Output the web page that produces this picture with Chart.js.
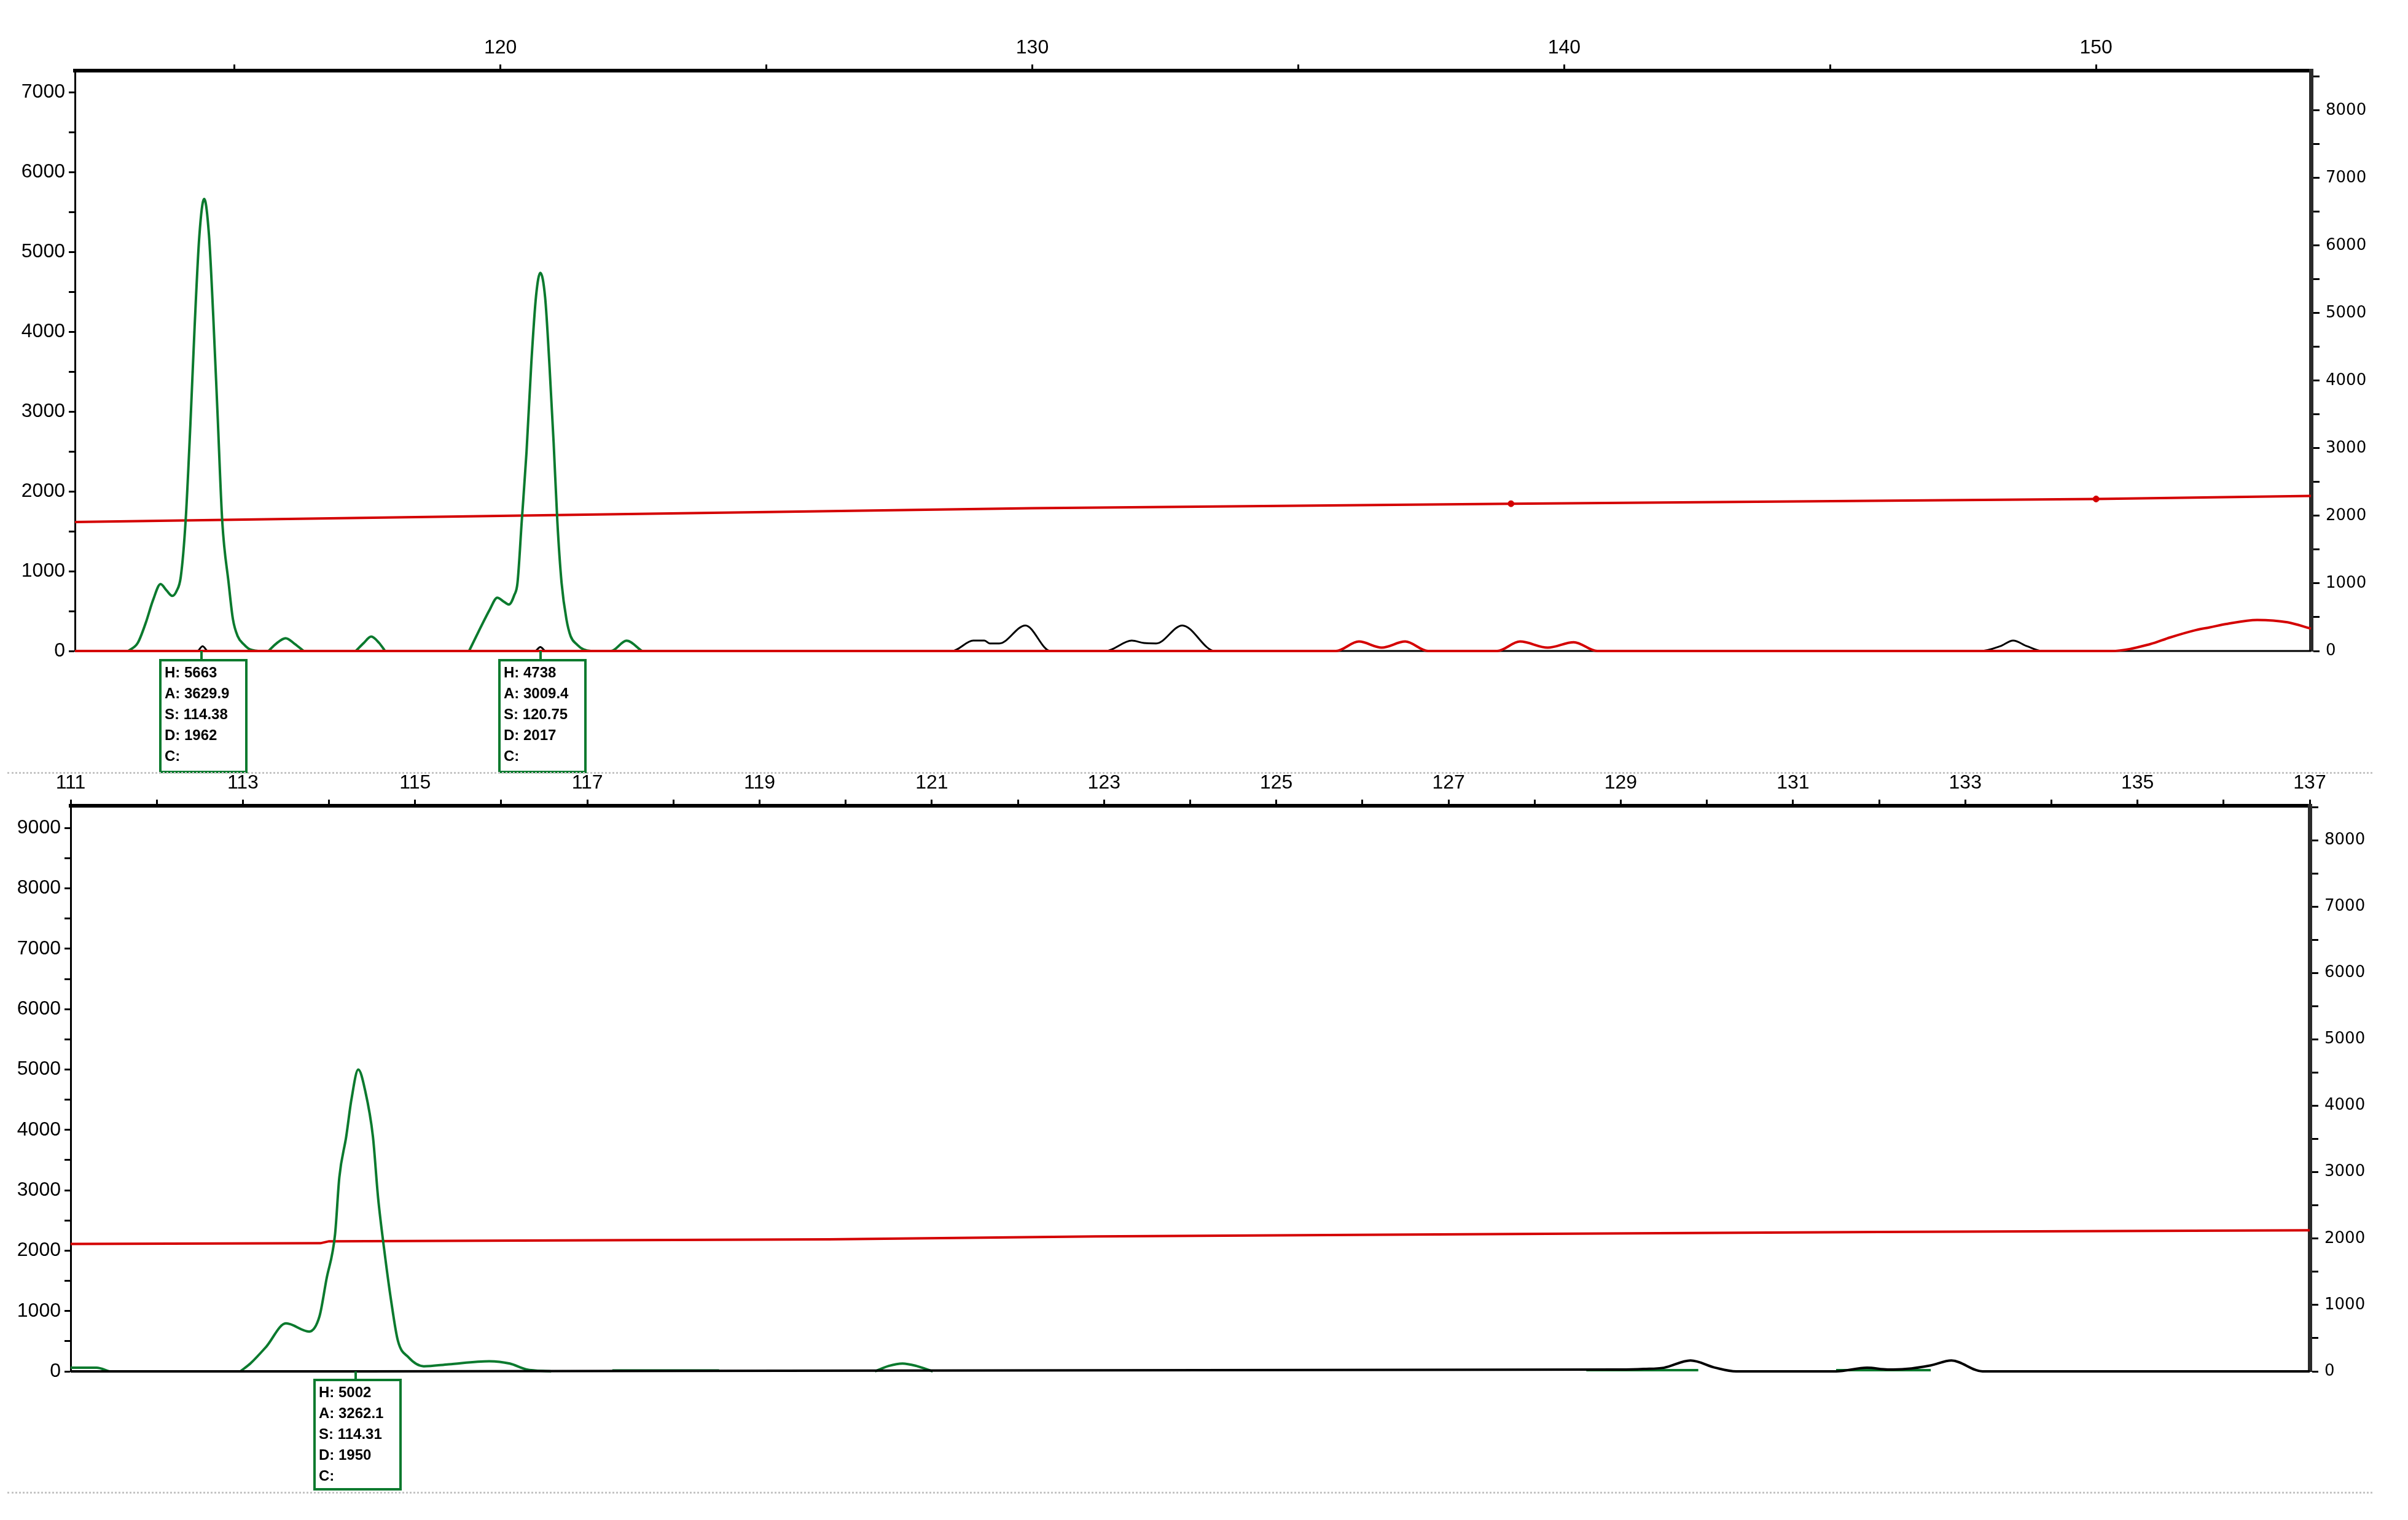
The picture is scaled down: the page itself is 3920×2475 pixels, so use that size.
<!DOCTYPE html>
<html>
<head>
<meta charset="utf-8">
<script src="https://cdn.jsdelivr.net/npm/chart.js@4.4.1/dist/chart.umd.min.js"></script>
<style>
body { margin:0; background:#fff; }
#wrap { position:relative; width:3920px; height:2475px; background:#fff; }
canvas { position:absolute; left:0; }
.sep { position:absolute; left:12px; width:3850px; border-top:3px dotted #c4c4c4; }
</style>
</head>
<body>
<div id="wrap">
	<canvas id="topChart" width="3920" height="1262" style="top:0px"></canvas>
	<div class="sep" style="top:1257px"></div>
	<canvas id="bottomChart" width="3920" height="1213" style="top:1262px"></canvas>
	<div class="sep" style="top:2429px"></div>
</div>
<script>
// ---- top panel data (size in bp, height in RFU) ----
var topGreenX = [113.0, 113.18, 113.33, 113.47, 113.61, 113.72, 113.83, 113.91, 113.99, 114.08, 114.17, 114.25, 114.34, 114.43, 114.52, 114.6, 114.68, 114.77, 114.89, 114.97, 115.06, 115.18, 115.29, 115.44,
	115.5, 115.64, 115.78, 115.96, 116.13, 116.3,
	116.4, 117.28, 117.43, 117.57, 117.72, 117.83,
	117.9, 119.41, 119.62, 119.8, 119.94, 120.06, 120.16, 120.26, 120.32, 120.4, 120.49, 120.58, 120.67, 120.75, 120.84, 120.92, 121.0, 121.07, 121.15, 121.24, 121.32, 121.44, 121.56, 121.7, 122.08, 122.37, 122.66];
var topGreenY = [0, 100, 350, 640, 838, 760, 690, 750, 930, 1620, 2830, 4060, 5210, 5663, 5210, 4200, 2990, 1620, 850, 400, 185, 80, 20, 0,
	null, 0, 90, 160, 90, 0,
	null, 0, 100, 180, 100, 0,
	null, 0, 285, 520, 667, 620, 582, 700, 850, 1620, 2490, 3600, 4450, 4738, 4430, 3600, 2610, 1620, 850, 400, 185, 80, 20, 0, 0, 128, 0];

var topBlackX = [112, 114.3, 114.4, 114.5, 120.65, 120.75, 120.85, 128.49, 128.89, 129.1, 129.2, 129.38, 129.87, 130.34, 131.38, 131.87, 132.1, 132.33, 132.82, 133.43, 147.83, 148.2, 148.44, 148.7, 148.99, 154.04];
var topBlackY = [0, 0, 60, 0, 0, 50, 0, 0, 130, 130, 95, 95, 320, 0, 0, 130, 100, 95, 320, 0, 0, 60, 130, 60, 0, 0];

var topRedX = [112, 135.71, 136.14, 136.57, 137.01, 137.44, 138.74, 139.17, 139.69, 140.18, 140.62, 150.29, 151.01, 151.39, 151.88, 152.14, 152.45, 153.03, 153.6, 154.04];
var topRedY = [0, 0, 140, 50, 140, 0, 0, 140, 50, 130, 0, 0, 100, 200, 310, 350, 400, 460, 425, 330];

var topSizingX = [112, 120, 130, 139, 150, 154.04];
var topSizingY = [1909, 2000, 2114, 2180, 2250, 2295];
var topSizingDotX = [139, 150];
var topSizingDotY = [2180, 2250];

var topPeakX = [114.38, 120.75];
var topPeakText = [
	["H: 5663", "A: 3629.9", "S: 114.38", "D: 1962", "C:"],
	["H: 4738", "A: 3009.4", "S: 120.75", "D: 2017", "C:"]
];

// ---- bottom panel data ----
var botGreenX = [111, 111.3, 111.45,
	111.5, 112.97, 113.09, 113.27, 113.5, 113.77, 113.89, 113.97, 114.07, 114.12, 114.2, 114.26, 114.34, 114.42, 114.51, 114.57, 114.64, 114.72, 114.8, 114.92, 115.1, 115.39, 115.86, 116.1, 116.29, 116.58,
	116.7, 117.29, 118.53,
	118.6, 120.34, 120.5, 120.66, 120.82, 121.01,
	121.1, 128.6, 129.9,
	130.0, 131.5, 132.6];
var botGreenY = [60, 60, 0,
	null, 0, 135, 406, 795, 660, 914, 1523, 2267, 3215, 3890, 4500, 5000, 4650, 3890, 2877, 2030, 1184, 508, 237, 85, 118, 169, 129, 34, 0,
	null, 15, 15,
	null, 0, 90, 130, 90, 0,
	null, 20, 20,
	null, 20, 20];

var botBlackX = [111, 129.0, 129.27, 129.5, 129.81, 130.1, 130.34, 131.5, 131.86, 132.1, 132.31, 132.6, 132.84, 133.2, 137];
var botBlackY = [0, 30, 40, 60, 180, 60, 0, 0, 60, 30, 40, 100, 180, 0, 0];

var botSizingX = [111, 113.9, 114.0, 119.8, 122.9, 125.9, 132, 137];
var botSizingY = [1920, 1930, 1960, 1990, 2032, 2055, 2100, 2125];

var botPeakX = [114.31];
var botPeakText = [
	["H: 5002", "A: 3262.1", "S: 114.31", "D: 1950", "C:"]
];

var GREEN = '#0b7a2e';
var RED = '#d40000';

function pts(xs, ys){
	return xs.map(function(x, i){ return {x: x, y: ys[i]}; });
};

// fixed tick positions every `step` (avoids the auto-evened ticks)
function stepTicks(step){
	return function(scale){
		var t = [];
		for (var v = Math.ceil(scale.min / step) * step; v <= scale.max + 1e-9; v += step) {
			t.push({value: Math.round(v * 1000) / 1000});
		};
		scale.ticks = t;
	};
};

// peak annotation boxes under the trace
var peakBoxes = {
	id: 'peakBoxes',
	afterDatasetsDraw: function(chart, args, opts){
		var ctx = chart.ctx;
		var xs = chart.scales.x;
		var base = chart.chartArea.bottom;
		(opts.peaks || []).forEach(function(p){
			var px = Math.round(xs.getPixelForValue(p.x));
			var top = base + opts.gap;
			ctx.save();
			ctx.strokeStyle = GREEN;
			ctx.lineWidth = 4;
			ctx.beginPath();
			ctx.moveTo(px, base);
			ctx.lineTo(px, top);
			ctx.stroke();
			ctx.strokeRect(px - 67, top, 140, opts.height);
			ctx.fillStyle = '#000';
			ctx.font = 'bold 24px "Liberation Sans", sans-serif';
			ctx.textBaseline = 'middle';
			p.lines.forEach(function(t, i){
				ctx.fillText(t, px - 60, top + 21 + i * 34);
			});
			ctx.restore();
		});
	}
};

function lineSet(data, color, width, order){
	return {
		data: data,
		borderColor: color,
		borderWidth: width,
		pointRadius: 0,
		fill: false,
		order: order,
		clip: 6,
		cubicInterpolationMode: 'monotone'
	};
};

function makeChart(id, cfg){
	var ctx = document.getElementById(id);
	var datasets = [
		lineSet(pts(cfg.greenX, cfg.greenY), GREEN, 4, 1),
		lineSet(pts(cfg.blackX, cfg.blackY), '#000', cfg.blackWidth, cfg.blackOrder),
		Object.assign(lineSet(pts(cfg.sizingX, cfg.sizingY), RED, 4, 3), {yAxisID: 'y2', cubicInterpolationMode: 'default', tension: 0})
	];
	if (cfg.redX) {
		datasets.push(Object.assign(lineSet(pts(cfg.redX, cfg.redY), RED, 4, 0), {yAxisID: 'y2'}));
	};
	if (cfg.dotX) {
		datasets.push({
			data: pts(cfg.dotX, cfg.dotY), yAxisID: 'y2', showLine: false,
			pointRadius: 5, pointBackgroundColor: RED, pointBorderColor: RED, order: 0
		});
	};
	var tickFont = {family: '"Liberation Sans", Arial, sans-serif', size: 32};
	var peaks = cfg.peakX.map(function(x, i){ return {x: x, lines: cfg.peakText[i]}; });
	return new Chart(ctx, {
		type: 'line',
		data: {datasets: datasets},
		plugins: [peakBoxes],
		options: {
			responsive: false,
			animation: false,
			devicePixelRatio: 1,
			layout: {padding: {left: 0, right: 0, top: 0, bottom: cfg.padBottom}},
			plugins: {
				legend: {display: false},
				tooltip: {enabled: false},
				peakBoxes: {peaks: peaks, gap: cfg.boxGap, height: cfg.boxHeight}
			},
			scales: {
				x: {
					type: 'linear', position: 'top', min: cfg.xMin, max: cfg.xMax,
					afterFit: function(s){ s.height = cfg.xHeight; },
					afterBuildTicks: stepTicks(cfg.xStep),
					grid: {display: true, drawOnChartArea: false, tickLength: 10, tickWidth: 3, tickColor: '#000'},
					border: {display: true, width: 6, color: '#000'},
					ticks: {
						autoSkip: false, maxRotation: 0,
						padding: 8, color: '#000', font: tickFont,
						callback: function(v){ return cfg.xLabel(v) ? String(v) : ''; }
					}
				},
				y: {
					position: 'left', min: 0, max: cfg.yMax,
					afterFit: function(s){ s.width = cfg.yWidth; },
					afterBuildTicks: stepTicks(500),
					grid: {display: true, drawOnChartArea: false, tickLength: 10, tickWidth: 3, tickColor: '#000'},
					border: {display: true, width: 3, color: '#000'},
					ticks: {
						autoSkip: false, padding: 6, color: '#000', font: tickFont,
						callback: function(v){ return v % 1000 === 0 ? String(v) : ''; }
					}
				},
				y2: {
					position: 'right', min: 0, max: cfg.y2Max,
					afterFit: function(s){ s.width = 3920 - cfg.right; },
					afterBuildTicks: stepTicks(500),
					grid: {display: true, drawOnChartArea: false, tickLength: 14, tickWidth: 3, tickColor: '#000'},
					border: {display: true, width: 7, color: '#2a2a2a'},
					ticks: {
						autoSkip: false, padding: 10, color: '#000',
						font: {family: '"DejaVu Sans", sans-serif', size: 26},
						callback: function(v){ return v % 1000 === 0 ? String(v) : ''; }
					}
				}
			}
		}
	});
};

// top panel
makeChart("topChart", {
	greenX: topGreenX, greenY: topGreenY,
	blackX: topBlackX, blackY: topBlackY, blackWidth: 3, blackOrder: 2,
	redX: topRedX, redY: topRedY,
	sizingX: topSizingX, sizingY: topSizingY,
	dotX: topSizingDotX, dotY: topSizingDotY,
	peakX: topPeakX, peakText: topPeakText,
	xMin: 112, xMax: 154.04, xStep: 5,
	xLabel: function(v){ return v % 10 === 0; },
	xHeight: 115, yWidth: 122, right: 3762,
	yMax: 7270, y2Max: 8590,
	padBottom: 202, boxGap: 15, boxHeight: 182
});

// bottom panel
makeChart("bottomChart", {
	greenX: botGreenX, greenY: botGreenY,
	blackX: botBlackX, blackY: botBlackY, blackWidth: 4, blackOrder: 0,
	sizingX: botSizingX, sizingY: botSizingY,
	peakX: botPeakX, peakText: botPeakText,
	xMin: 111, xMax: 137, xStep: 1,
	xLabel: function(v){ return (v - 111) % 2 === 0; },
	xHeight: 50, yWidth: 115, right: 3760,
	yMax: 9370, y2Max: 8520,
	padBottom: 242, boxGap: 14, boxHeight: 178
});
</script>
</body>
</html>
